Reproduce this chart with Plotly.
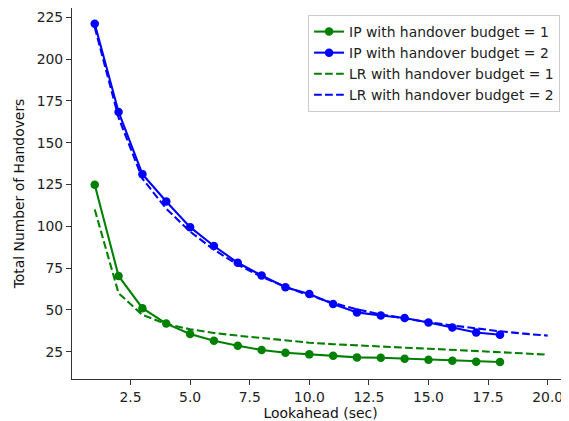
import plotly.graph_objects as go

# Data
ip_x = list(range(1, 19))
ip_budget1 = [124.9, 70.3, 51.0, 41.8, 35.6, 31.6, 28.6, 26.0, 24.4, 23.4, 22.6, 21.6, 21.4, 20.8, 20.2, 19.6, 19.0, 18.8]
ip_budget2 = [221.2, 168.4, 131.2, 114.8, 99.5, 88.2, 78.2, 70.6, 63.6, 59.5, 53.5, 48.5, 46.7, 45.1, 42.5, 39.5, 36.5, 35.1]

lr_x = list(range(1, 21))
lr_budget1 = [110.0, 60.0, 47.0, 41.6, 38.4, 36.2, 34.6, 33.2, 31.7, 30.4, 29.5, 28.7, 28.0, 27.4, 26.8, 26.2, 25.6, 24.8, 24.0, 23.2]
lr_budget2 = [219.0, 165.0, 128.5, 110.5, 96.8, 86.0, 77.0, 69.8, 63.8, 58.6, 54.2, 50.3, 47.3, 44.8, 42.6, 40.7, 38.8, 37.2, 35.8, 34.6]

names = ["IP with handover budget = 1", "IP with handover budget = 2",
         "LR with handover budget = 1", "LR with handover budget = 2"]

FONT = "DejaVu Sans, Liberation Sans, sans-serif"
FS = 13.9
GREEN = "#008000"
BLUE = "#0000ff"
DASH = "7.7px,3.3px"

fig = go.Figure()
fig.add_trace(go.Scatter(x=ip_x, y=ip_budget1, mode="lines+markers", name=names[0],
                         line=dict(color=GREEN, width=2.08),
                         marker=dict(color=GREEN, size=8.5, symbol="circle")))
fig.add_trace(go.Scatter(x=ip_x, y=ip_budget2, mode="lines+markers", name=names[1],
                         line=dict(color=BLUE, width=2.08),
                         marker=dict(color=BLUE, size=8.5, symbol="circle")))
fig.add_trace(go.Scatter(x=lr_x, y=lr_budget1, mode="lines", name=names[2],
                         line=dict(color=GREEN, width=2.08, dash=DASH)))
fig.add_trace(go.Scatter(x=lr_x, y=lr_budget2, mode="lines", name=names[3],
                         line=dict(color=BLUE, width=2.08, dash=DASH)))

axis_common = dict(showgrid=False, zeroline=False, showline=True, linecolor="#333333",
                   linewidth=1.1, mirror=True, ticks="outside", ticklen=5, tickwidth=1,
                   tickcolor="#333333", automargin=False,
                   tickfont=dict(family=FONT, size=FS, color="#222222"))

fig.update_xaxes(range=[0.046, 20.894], tickvals=[2.5, 5, 7.5, 10, 12.5, 15, 17.5, 20],
                 ticktext=["2.5", "5.0", "7.5", "10.0", "12.5", "15.0", "17.5", "20.0"],
                 title=dict(text="Lookahead (sec)", font=dict(family=FONT, size=FS, color="#111111"), standoff=6),
                 **axis_common)
fig.update_yaxes(range=[8.67, 230.56], tickvals=[25, 50, 75, 100, 125, 150, 175, 200, 225],
                 title=dict(text="Total Number of Handovers", font=dict(family=FONT, size=FS, color="#111111"), standoff=8),
                 **axis_common)

# page body has an 8px margin, so the figure is sized to the visible area
fig.update_layout(
    width=561, height=413,
    margin=dict(l=64, r=0, t=0, b=42, autoexpand=False),
    plot_bgcolor="white", paper_bgcolor="white",
    font=dict(family=FONT, size=FS, color="#222222"),
    legend=dict(x=0.475, y=0.981, xanchor="left", yanchor="top",
                bgcolor="rgba(255,255,255,0.8)", bordercolor="#cccccc", borderwidth=1,
                font=dict(family=FONT, size=FS, color="#222222"),
                tracegroupgap=0, itemwidth=30),
    showlegend=True,
)

fig.write_html("out.html")
